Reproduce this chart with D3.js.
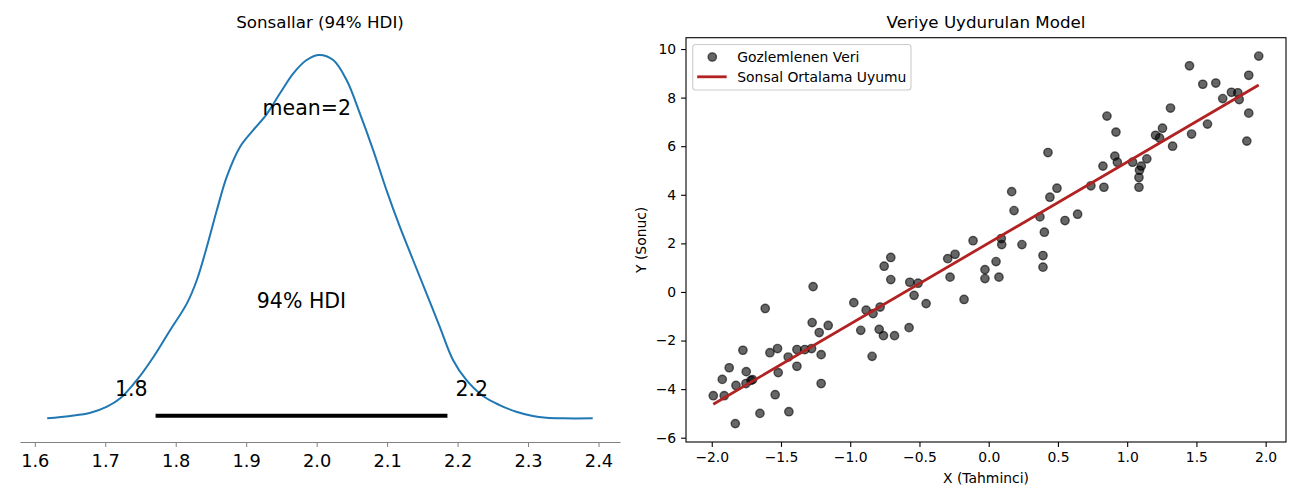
<!DOCTYPE html>
<html lang="tr">
<head>
  <meta charset="UTF-8">
  <title>Sonsallar ve Model</title>
  <script src="https://cdn.jsdelivr.net/npm/d3@7"></script>
  <style>
  body{
    margin: 0;
    background: #fff;
  }
  svg text{
    font-family: "DejaVu Sans", sans-serif;
    fill: #000;
  }
  .tickSol text{
    font-size: 17.8px;
  }
  .tickSol line, .tickSol path{
    stroke: #808080;
  }
  .eje text{
    font-size: 13.9px;
  }
  .eje line{
    stroke: #000;
    stroke-width: 1.1px;
  }
  .titulo{
    font-size: 16.7px;
  }
  .anotacion{
    font-size: 20.5px;
  }
  .etiqueta, .leyenda{
    font-size: 13.9px;
  }
  </style>
</head>
<body>
  <div id="grafico"></div>

  <script>
    // posterior KDE (sol panel)
    var kdeX = [1.6176, 1.6506, 1.679, 1.7025, 1.7214, 1.745, 1.7686, 1.7922, 1.8159, 1.830,
                1.8442, 1.8584, 1.8725, 1.8914, 1.9102, 1.9292, 1.948, 1.9669, 1.9858, 2.0035,
                2.0235, 2.0425, 2.0613, 2.0802, 2.0991, 2.118, 2.1368, 2.1558, 2.1746, 2.1935,
                2.2124, 2.236, 2.2596, 2.2833, 2.3068, 2.3258, 2.35, 2.3918];
    var kdeY = [0.052, 0.075, 0.107, 0.167, 0.249, 0.430, 0.659, 0.922, 1.185, 1.415,
                1.743, 2.104, 2.433, 2.728, 2.893, 3.050, 3.254, 3.451, 3.582, 3.632,
                3.582, 3.385, 3.057, 2.695, 2.301, 1.940, 1.612, 1.284, 0.955, 0.627,
                0.430, 0.272, 0.183, 0.117, 0.075, 0.058, 0.052, 0.052];
    var hdi = [1.7714, 2.1856];
    var hdiEtiket = ["1.8", "2.2"];
    var ortalama = 1.986;
    var ticksSol = [1.6, 1.7, 1.8, 1.9, 2.0, 2.1, 2.2, 2.3, 2.4];

    // gozlemlenen veri (sag panel)
    var xObs = [-1.989, -1.910, -1.924, -1.874, -1.825, -1.830, -1.775, -1.751, -1.753, -1.717,
                -1.705, -1.652, -1.614, -1.580, -1.542, -1.525, -1.520, -1.448, -1.443, -1.385,
                -1.385, -1.328, -1.279, -1.275, -1.268, -1.224, -1.210, -1.210, -1.159, -0.974,
                -0.924, -0.885, -0.842, -0.835, -0.791, -0.784, -0.760, -0.755, -0.707, -0.707,
                -0.680, -0.575, -0.570, -0.539, -0.510, -0.452, -0.296, -0.243, -0.279, -0.178,
                -0.113, -0.027, -0.027, 0.053, 0.074, 0.094, 0.091, 0.240, 0.392, 0.392,
                0.166, 0.183, 0.370, 0.402, 0.428, 0.442, 0.493, 0.551, 0.642, 0.738,
                0.832, 0.825, 0.854, 0.911, 0.919, 0.929, 1.039, 1.085, 1.085, 1.089,
                1.102, 1.142, 1.205, 1.234, 1.255, 1.313, 1.328, 1.450, 1.465, 1.546,
                1.580, 1.640, 1.690, 1.753, 1.799, 1.809, 1.864, 1.878, 1.878, 1.950];
    var yObs = [-4.27, -4.27, -3.60, -3.12, -3.85, -5.42, -2.40, -3.28, -3.77, -3.64,
                -3.61, -5.00, -0.68, -2.50, -4.23, -2.33, -3.32, -2.68, -4.93, -2.37,
                -3.06, -2.37, -2.33, -1.26, 0.22, -1.67, -2.58, -3.77, -1.38, -0.44,
                -1.58, -0.75, -2.65, -0.89, -1.54, -0.62, -1.80, 1.06, 1.42, 0.51,
                -1.80, -1.47, 0.40, -0.14, 0.36, -0.48, 1.37, 1.55, 0.61, -0.31,
                2.11, 0.92, 0.55, 1.25, 0.61, 1.95, 2.20, 1.95, 1.50, 1.02,
                4.13, 3.35, 3.09, 2.46, 5.74, 3.90, 4.27, 2.94, 3.20, 4.37,
                4.31, 5.18, 7.24, 5.59, 6.58, 5.34, 5.34, 4.31, 4.71, 5.01,
                5.18, 5.48, 6.45, 6.34, 6.74, 7.57, 6.00, 9.31, 6.50, 8.55,
                6.91, 8.60, 7.96, 8.22, 8.20, 7.92, 6.21, 8.92, 7.36, 9.71];
    var fitX = [-1.989, 1.950];
    var fitY = [-4.62, 8.52];
    var ticksX = [-2.0, -1.5, -1.0, -0.5, 0.0, 0.5, 1.0, 1.5, 2.0];
    var ticksY = [-6, -4, -2, 0, 2, 4, 6, 8, 10];

    var w = 1300;
    var h = 500;
    var arriba = 37.7;
    var abajo = 442;

    var grafico = d3.select("#grafico")
      .append("svg")
      .attr("width", w)
      .attr("height", h);

    //---------------- panel izquierdo ----------------
    var izq = 20, der = 620;
    var xSol = d3.scaleLinear()
      .domain([1.579, 2.4305])
      .range([izq, der]);
    var ySol = d3.scaleLinear()
      .domain([-0.181, 3.802])
      .range([abajo, arriba]);

    grafico.append("text")
      .attr("class", "titulo")
      .attr("x", (izq + der) / 2)
      .attr("y", 28)
      .attr("text-anchor", "middle")
      .text("Sonsallar (94% HDI)");

    var kde = kdeX.map(function(d, i){ return [d, kdeY[i]]; });
    grafico.append("path")
      .datum(kde)
      .attr("fill", "none")
      .attr("stroke", "#1f77b4")
      .attr("stroke-width", 2)
      .attr("d", d3.line()
        .x(function(d){ return xSol(d[0]); })
        .y(function(d){ return ySol(d[1]); })
        .curve(d3.curveCatmullRom));

    // HDI cizgisi
    grafico.append("line")
      .attr("x1", xSol(hdi[0]))
      .attr("x2", xSol(hdi[1]))
      .attr("y1", ySol(0.078))
      .attr("y2", ySol(0.078))
      .attr("stroke", "#000")
      .attr("stroke-width", 4);

    grafico.append("text")
      .attr("class", "anotacion")
      .attr("x", xSol(hdi[0]) - 8)
      .attr("y", ySol(0.272))
      .attr("text-anchor", "end")
      .text(hdiEtiket[0]);
    grafico.append("text")
      .attr("class", "anotacion")
      .attr("x", xSol(hdi[1]) + 8)
      .attr("y", ySol(0.272))
      .attr("text-anchor", "start")
      .text(hdiEtiket[1]);
    grafico.append("text")
      .attr("class", "anotacion")
      .attr("x", xSol((hdi[0] + hdi[1]) / 2))
      .attr("y", ySol(1.136))
      .attr("text-anchor", "middle")
      .text("94% HDI");
    grafico.append("text")
      .attr("class", "anotacion")
      .attr("x", xSol(ortalama))
      .attr("y", ySol(3.04))
      .attr("text-anchor", "middle")
      .text("mean=2");

    var ejeSol = grafico.append("g")
      .attr("class", "tickSol")
      .attr("transform", "translate(0," + abajo + ")")
      .call(d3.axisBottom(xSol)
        .tickValues(ticksSol)
        .tickFormat(d3.format(".1f"))
        .tickSize(5)
        .tickPadding(7)
        .tickSizeOuter(0));
    ejeSol.selectAll("text").style("font-size", "17.8px");

    //---------------- panel derecho ----------------
    var izq2 = 686, der2 = 1286;
    var xExt = d3.extent(xObs), yExt = d3.extent(yObs);
    var mx = (xExt[1] - xExt[0]) * 0.05, my = (yExt[1] - yExt[0]) * 0.05;
    var xScale = d3.scaleLinear()
      .domain([xExt[0] - mx, xExt[1] + mx])
      .range([izq2, der2]);
    var yScale = d3.scaleLinear()
      .domain([yExt[0] - my, yExt[1] + my])
      .range([abajo, arriba]);

    grafico.append("text")
      .attr("class", "titulo")
      .attr("x", (izq2 + der2) / 2)
      .attr("y", 28)
      .attr("text-anchor", "middle")
      .text("Veriye Uydurulan Model");

    grafico.selectAll(".punto")
      .data(xObs)
      .enter()
      .append("circle")
      .attr("class", "punto")
      .attr("cx", function(d){ return xScale(d); })
      .attr("cy", function(d, i){ return yScale(yObs[i]); })
      .attr("r", 4.17)
      .attr("fill", "rgba(0,0,0,0.6)")
      .attr("stroke", "rgba(0,0,0,0.6)")
      .attr("stroke-width", 1.39);

    grafico.append("line")
      .attr("x1", xScale(fitX[0]))
      .attr("y1", yScale(fitY[0]))
      .attr("x2", xScale(fitX[1]))
      .attr("y2", yScale(fitY[1]))
      .attr("stroke", "#b22222")
      .attr("stroke-width", 2.78);

    var ejeX = grafico.append("g")
      .attr("class", "eje")
      .attr("transform", "translate(0," + abajo + ")")
      .call(d3.axisBottom(xScale)
        .tickValues(ticksX)
        .tickFormat(d3.format(".1f"))
        .tickSize(4.9)
        .tickPadding(4.9)
        .tickSizeOuter(0));
    ejeX.select(".domain").remove();

    var ejeY = grafico.append("g")
      .attr("class", "eje")
      .attr("transform", "translate(" + izq2 + ",0)")
      .call(d3.axisLeft(yScale)
        .tickValues(ticksY)
        .tickFormat(d3.format("d"))
        .tickSize(4.9)
        .tickPadding(4.9)
        .tickSizeOuter(0));
    ejeY.select(".domain").remove();

    grafico.append("rect")
      .attr("x", izq2)
      .attr("y", arriba)
      .attr("width", der2 - izq2)
      .attr("height", abajo - arriba)
      .attr("fill", "none")
      .attr("stroke", "#000")
      .attr("stroke-width", 1.1);

    grafico.append("text")
      .attr("class", "etiqueta")
      .attr("x", (izq2 + der2) / 2)
      .attr("y", 483)
      .attr("text-anchor", "middle")
      .text("X (Tahminci)");
    grafico.append("text")
      .attr("class", "etiqueta")
      .attr("transform", "translate(645.5," + ((arriba + abajo) / 2) + ") rotate(-90)")
      .attr("text-anchor", "middle")
      .text("Y (Sonuc)");

    // leyenda
    var ley = grafico.append("g").attr("transform", "translate(692.7,44.5)");
    ley.append("rect")
      .attr("width", 218.3)
      .attr("height", 45.5)
      .attr("rx", 3)
      .attr("fill", "rgba(255,255,255,0.8)")
      .attr("stroke", "#cccccc")
      .attr("stroke-width", 1.1);
    ley.append("circle")
      .attr("cx", 19.6)
      .attr("cy", 12.5)
      .attr("r", 4.17)
      .attr("fill", "rgba(0,0,0,0.6)")
      .attr("stroke", "rgba(0,0,0,0.6)")
      .attr("stroke-width", 1.39);
    ley.append("line")
      .attr("x1", 4.5)
      .attr("x2", 34)
      .attr("y1", 32.3)
      .attr("y2", 32.3)
      .attr("stroke", "#b22222")
      .attr("stroke-width", 2.78);
    ley.append("text")
      .attr("class", "leyenda")
      .attr("x", 44.6)
      .attr("y", 17.3)
      .text("Gozlemlenen Veri");
    ley.append("text")
      .attr("class", "leyenda")
      .attr("x", 44.6)
      .attr("y", 37.6)
      .text("Sonsal Ortalama Uyumu");
  </script>
</body>
</html>
